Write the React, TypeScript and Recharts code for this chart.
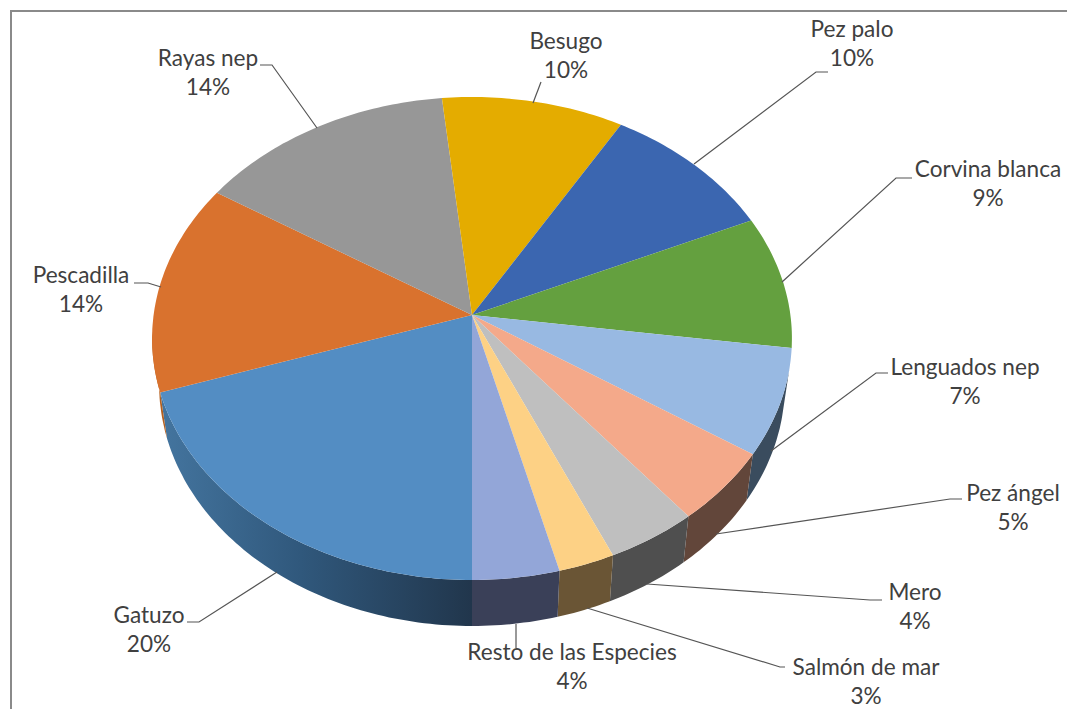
import { PieChart, Pie } from "recharts";

const names = [
  "Gatuzo",
  "Pescadilla",
  "Rayas nep",
  "Besugo",
  "Pez palo",
  "Corvina blanca",
  "Lenguados nep",
  "Pez ángel",
  "Mero",
  "Salmón de mar",
  "Resto de las Especies",
];
const shares = [19.9, 14.1, 14.3, 10.1, 9.8, 8.9, 7.1, 4.9, 4.2, 2.6, 4.0];

const topColors = [
  "#538dc3", "#d9722e", "#979797", "#e4ac00", "#3b66b0", "#64a03f",
  "#98b9e2", "#f4a98a", "#bfbfbf", "#fdd185", "#93a6d8",
];
const wallColors = [
  ["#44759f", "#21364c"], ["#b5601f", "#b5601f"], ["#666666", "#666666"], ["#99740a", "#99740a"],
  ["#2a4a80", "#2a4a80"], ["#44702b", "#44702b"], ["#3f5569", "#3a4c5e"], ["#62463a", "#62463a"],
  ["#4f4f4f", "#4f4f4f"], ["#6a5535", "#6a5535"], ["#3a4058", "#3a4058"],
];

// label centre x, first line y, leader points
const labelX = [149, 81, 208, 566, 852, 988, 965, 1013, 915, 866, 572];
const labelY = [615, 275, 58, 41, 29, 169, 367, 493, 592, 667, 652];
const leaders = [
  "187,622 199,622 277,572",
  "134,283 148,283 161,287",
  "260,65 272,65 317,128",
  "541,82 533,103",
  "828,72 816,72 694,164",
  "912,178 896,178 782,282",
  "888,373 876,373 771,451",
  "962,499 950,499 716,534",
  "882,600 870,600 647,584",
  "785,667 780,667 587,608",
  "516,624 516,648",
];

const rows = names.map((name, i) => ({ name, value: shares[i], fill: topColors[i] }));

// flattened perspective view of the round pie
const TILT = 0.0973;
const SCALE_X = 0.995;
const SCALE_Y = 0.7475;
const DEPTH = 46;
const BOTTOM_X = 0.978;

function rim(cx: number, cy: number, r: number, deg: number, bottom = false) {
  const t = (deg * Math.PI) / 180;
  const ux = Math.cos(t);
  const uy = -Math.sin(t);
  const w = 1 - TILT * uy;
  const x = (r * SCALE_X * ux) / w;
  const y = (r * SCALE_Y * uy) / w;
  return bottom ? [cx + x * BOTTOM_X, cy + y + DEPTH] : [cx + x, cy + y];
}

function arcPoints(cx: number, cy: number, r: number, from: number, to: number, bottom = false) {
  const steps = Math.max(2, Math.ceil(Math.abs(to - from)));
  const pts: number[][] = [];
  for (let i = 0; i <= steps; i++) pts.push(rim(cx, cy, r, from + ((to - from) * i) / steps, bottom));
  return pts;
}

const toPath = (pts: number[][]) =>
  "M" + pts.map((p) => `${p[0].toFixed(1)},${p[1].toFixed(1)}`).join("L") + "Z";

function Slice(props: any) {
  const { cx, cy, outerRadius, startAngle, endAngle, fill, index } = props;
  const top = [[cx, cy], ...arcPoints(cx, cy, outerRadius, startAngle, endAngle)];

  // the side wall only shows on the near half of the rim
  let c1 = 90 - startAngle;
  let c2 = 90 - endAngle;
  if (c1 >= 360) {
    c1 -= 360;
    c2 -= 360;
  }
  const w1 = Math.max(c1, 103);
  const w2 = Math.min(c2, 266);
  const colors = wallColors[index] ?? ["#555", "#555"];
  const id = `wall-${index}`;

  return (
    <g>
      {w2 > w1 && (
        <>
          <defs>
            <linearGradient id={id} gradientUnits="userSpaceOnUse" x1={160} y1={0} x2={472} y2={0}>
              <stop offset="0" stopColor={colors[0]} />
              <stop offset="0.45" stopColor={index === 0 ? "#30587c" : colors[0]} />
              <stop offset="1" stopColor={colors[1]} />
            </linearGradient>
          </defs>
          <path
            d={toPath([
              ...arcPoints(cx, cy, outerRadius, 90 - w1, 90 - w2),
              ...arcPoints(cx, cy, outerRadius, 90 - w2, 90 - w1, true),
            ])}
            fill={index === 6 || index === 0 ? `url(#${id})` : colors[0]}
          />
        </>
      )}
      <path d={toPath(top)} fill={fill} />
    </g>
  );
}

function SliceLabel(props: any) {
  const { index, percent } = props;
  const x = labelX[index];
  const y = labelY[index];
  return (
    <g>
      <polyline points={leaders[index]} fill="none" stroke="#555555" strokeWidth={1.2} />
      <text x={x} y={y + 8} textAnchor="middle" fontSize={22.6} fill="#404040">
        {names[index]}
      </text>
      <text x={x} y={y + 37} textAnchor="middle" fontSize={22.6} fill="#404040">
        {Math.round(percent * 100)}%
      </text>
    </g>
  );
}

export default function App() {
  return (
    <div
      style={{
        position: "absolute",
        left: 0,
        top: 0,
        width: 1067,
        height: 709,
        background: "#fff",
        fontFamily: "Lato, sans-serif",
      }}
    >
      <div style={{ position: "absolute", left: 10, top: 10, width: 1057, height: 699, borderLeft: "2px solid #8a8a8a", borderTop: "2px solid #8a8a8a", boxSizing: "border-box" }} />
      <div style={{ position: "absolute", left: 0, top: 0 }}>
        <PieChart width={1067} height={709} margin={{ top: 0, right: 0, bottom: 0, left: 0 }}>
          <Pie
            data={rows}
            dataKey="value"
            nameKey="name"
            cx={472}
            cy={315}
            innerRadius={0}
            outerRadius={320}
            startAngle={-90}
            endAngle={-450}
            stroke="none"
            shape={Slice}
            label={SliceLabel}
            labelLine={false}
            isAnimationActive={false}
          />
        </PieChart>
      </div>
    </div>
  );
}
